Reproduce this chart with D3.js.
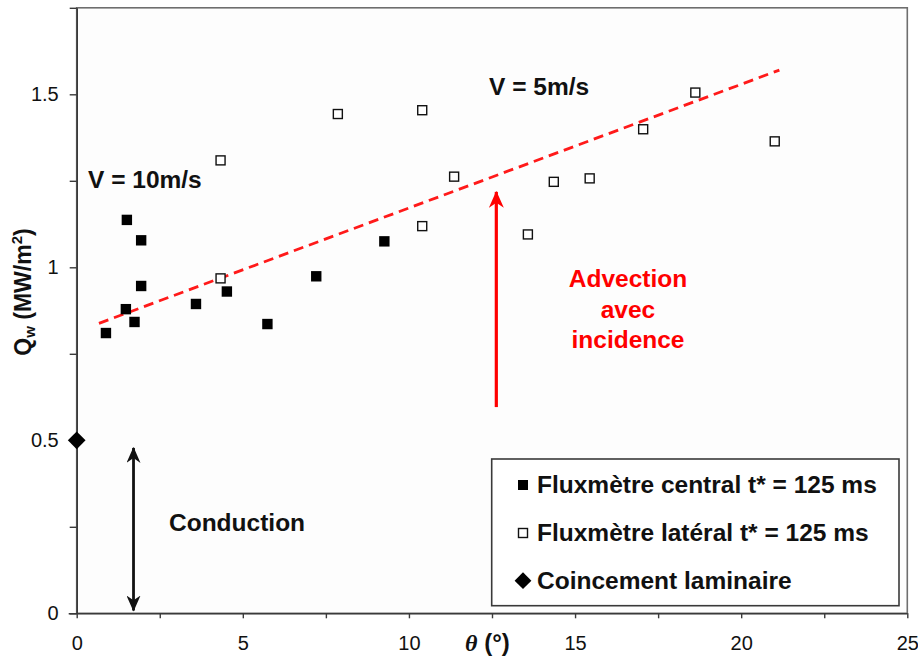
<!DOCTYPE html>
<html>
<head>
<meta charset="utf-8">
<script src="https://cdn.jsdelivr.net/npm/d3@7"></script>
<style>
  html, body { margin: 0; padding: 0; background: #ffffff; }
  svg { display: block; font-family: "Liberation Sans", Arial, sans-serif; }
</style>
</head>
<body>
<svg id="chart" width="918" height="659"></svg>
<script>
// Heat flux Qw versus incidence angle theta
const centralTheta = [0.88, 1.48, 1.51, 1.74, 1.94, 1.94, 3.59, 4.52, 5.74, 7.21, 9.26];
const centralQw    = [0.81, 0.879, 1.137, 0.842, 1.078, 0.946, 0.894, 0.930, 0.836, 0.974, 1.075];

const lateralTheta = [4.33, 4.33, 7.86, 10.40, 10.40, 11.36, 13.58, 14.36, 15.44, 17.05, 18.62, 21.01];
const lateralQw    = [1.309, 0.968, 1.443, 1.454, 1.119, 1.262, 1.095, 1.247, 1.257, 1.399, 1.505, 1.364];

const laminarTheta = [0];
const laminarQw    = [0.5];

// Linear trend (V = 10 m/s -> V = 5 m/s)
const trendTheta = [0.67, 21.15];
const trendQw    = [0.838, 1.570];

const xTicks = [0, 2.5, 5, 7.5, 10, 12.5, 15, 17.5, 20, 22.5, 25];
const yTicks = [0, 0.25, 0.5, 0.75, 1, 1.25, 1.5, 1.75];

const legendLabels = [
  "Fluxmètre central t* = 125 ms",
  "Fluxmètre latéral t* = 125 ms",
  "Coincement laminaire"
];

const svg = d3.select("#chart");
const plotLeft = 76.7, plotRight = 907.3, plotTop = 7.8, plotBottom = 613.3;
const bodyFont = 24.5;

const x = d3.scaleLinear().domain([0, 25]).range([plotLeft, plotRight]);
const y = d3.scaleLinear().domain([0, 1.75]).range([plotBottom, plotTop]);

// plot frame
svg.append("rect")
  .attr("x", plotLeft).attr("y", plotTop)
  .attr("width", plotRight - plotLeft).attr("height", plotBottom - plotTop)
  .attr("fill", "#fdfdfd")
  .attr("stroke", "#6e6e6e").attr("stroke-width", 1.6);

// axes
const fmtY = d => (Math.abs(d * 2 - Math.round(d * 2)) < 1e-9 ? d3.format("")(d) : "");
const fmtX = d => (d % 5 === 0 ? String(d) : "");

const yAxis = svg.append("g")
  .attr("transform", `translate(${plotLeft},0)`)
  .call(d3.axisLeft(y).tickValues(yTicks).tickFormat(fmtY).tickSize(7).tickPadding(11).tickSizeOuter(0));
const xAxis = svg.append("g")
  .attr("transform", `translate(0,${plotBottom})`)
  .call(d3.axisBottom(x).tickValues(xTicks).tickFormat(fmtX).tickSize(5).tickPadding(18).tickSizeOuter(0));

[yAxis, xAxis].forEach(g => {
  g.select(".domain").attr("stroke", "#3a3a3a").attr("stroke-width", 1.6);
  g.selectAll(".tick line").attr("stroke", "#3a3a3a").attr("stroke-width", 1.4);
  g.selectAll(".tick text")
    .attr("fill", "#111")
    .style("font-family", "'Liberation Sans', Arial, sans-serif")
    .style("font-size", "20px");
});
xAxis.select(".domain").attr("d", `M${plotLeft - 8},0.5H${plotRight}`);

// axis titles
const yTitle = svg.append("text")
  .attr("transform", `translate(31,292) rotate(-90)`)
  .attr("text-anchor", "middle")
  .attr("font-weight", "bold")
  .attr("font-size", 23)
  .attr("fill", "#111");
yTitle.append("tspan").text("Q");
yTitle.append("tspan").attr("font-size", 15).attr("dy", 4).text("w");
yTitle.append("tspan").attr("dy", -4).text(" (MW/m");
yTitle.append("tspan").attr("font-size", 15).attr("dy", -9).text("2");
yTitle.append("tspan").attr("dy", 9).text(")");

const xTitle = svg.append("text")
  .attr("x", 465).attr("y", 651)
  .attr("font-weight", "bold")
  .attr("font-size", 24)
  .attr("fill", "#111");
xTitle.append("tspan")
  .style("font-family", "'Liberation Serif', 'Times New Roman', serif")
  .attr("font-style", "italic")
  .text("θ");
xTitle.append("tspan").text(" (°)");

// trend line
svg.append("line")
  .attr("x1", x(trendTheta[0])).attr("y1", y(trendQw[0]))
  .attr("x2", x(trendTheta[1])).attr("y2", y(trendQw[1]))
  .attr("stroke", "#ff1a1a").attr("stroke-width", 2.8)
  .attr("stroke-dasharray", "10,6");

// arrows
const defs = svg.append("defs");
function head(id, color, w, h) {
  defs.append("marker")
    .attr("id", id).attr("viewBox", `0 0 ${h} ${w}`)
    .attr("refX", h - 1).attr("refY", w / 2)
    .attr("markerUnits", "userSpaceOnUse")
    .attr("markerWidth", h).attr("markerHeight", w)
    .attr("orient", "auto-start-reverse")
    .append("path")
    .attr("d", `M0,0L${h},${w / 2}L0,${w}L${h * 0.3},${w / 2}Z`)
    .attr("fill", color);
}
head("redHead", "#ff0000", 15, 17);
head("blackHead", "#111", 14, 16);

const advTheta = 12.63, advQw = [0.596, 1.218];
svg.append("line")
  .attr("x1", x(advTheta)).attr("y1", y(advQw[0]))
  .attr("x2", x(advTheta)).attr("y2", y(advQw[1]))
  .attr("stroke", "#ff0000").attr("stroke-width", 3.2)
  .attr("marker-end", "url(#redHead)");

const condTheta = 1.71, condQw = [0.008, 0.478];
svg.append("line")
  .attr("x1", x(condTheta)).attr("y1", y(condQw[0]))
  .attr("x2", x(condTheta)).attr("y2", y(condQw[1]))
  .attr("stroke", "#111").attr("stroke-width", 2.8)
  .attr("marker-start", "url(#blackHead)")
  .attr("marker-end", "url(#blackHead)");

// data markers
svg.append("g").selectAll("rect")
  .data(centralTheta.map((t, i) => [t, centralQw[i]]))
  .join("rect")
  .attr("x", d => x(d[0]) - 5.2).attr("y", d => y(d[1]) - 5.2)
  .attr("width", 10.4).attr("height", 10.4)
  .attr("fill", "#000");

svg.append("g").selectAll("rect")
  .data(lateralTheta.map((t, i) => [t, lateralQw[i]]))
  .join("rect")
  .attr("x", d => x(d[0]) - 4.5).attr("y", d => y(d[1]) - 4.5)
  .attr("width", 9).attr("height", 9)
  .attr("fill", "#fff").attr("stroke", "#111").attr("stroke-width", 1.4);

const diamond = d3.symbol().type(d3.symbolDiamond2).size(200);
svg.append("g").selectAll("path")
  .data(laminarTheta.map((t, i) => [t, laminarQw[i]]))
  .join("path")
  .attr("transform", d => `translate(${x(d[0])},${y(d[1])})`)
  .attr("d", diamond)
  .attr("fill", "#000");

// annotations
const note = (px, py, txt, color) => svg.append("text")
  .attr("x", px).attr("y", py)
  .attr("font-weight", "bold").attr("font-size", bodyFont)
  .attr("fill", color).text(txt);
note(88, 188, "V = 10m/s", "#111");
note(489, 95, "V = 5m/s", "#111");
note(169, 531, "Conduction", "#111");

const adv = ["Advection", "avec", "incidence"];
svg.append("g").selectAll("text")
  .data(adv)
  .join("text")
  .attr("x", 628).attr("y", (d, i) => 287 + i * 30.6)
  .attr("text-anchor", "middle")
  .attr("font-weight", "bold").attr("font-size", bodyFont)
  .attr("fill", "#ff0000")
  .text(d => d);

// legend
const lg = svg.append("g");
lg.append("rect")
  .attr("x", 491.7).attr("y", 459).attr("width", 407.3).attr("height", 146.7)
  .attr("fill", "#fff").attr("stroke", "#3a3a3a").attr("stroke-width", 1.6);
const rowY = [485, 533, 580.7];
lg.append("rect").attr("x", 518).attr("y", rowY[0] - 5).attr("width", 10).attr("height", 10).attr("fill", "#000");
lg.append("rect").attr("x", 518.5).attr("y", rowY[1] - 4.5).attr("width", 9).attr("height", 9)
  .attr("fill", "#fff").attr("stroke", "#111").attr("stroke-width", 1.4);
lg.append("path").attr("transform", `translate(523,${rowY[2]})`)
  .attr("d", d3.symbol().type(d3.symbolDiamond2).size(180)).attr("fill", "#000");
lg.selectAll("text.item")
  .data(legendLabels)
  .join("text")
  .attr("class", "item")
  .attr("x", 537).attr("y", (d, i) => rowY[i] + 8)
  .attr("font-weight", "bold").attr("font-size", bodyFont)
  .attr("fill", "#111")
  .text(d => d);
</script>
</body>
</html>
